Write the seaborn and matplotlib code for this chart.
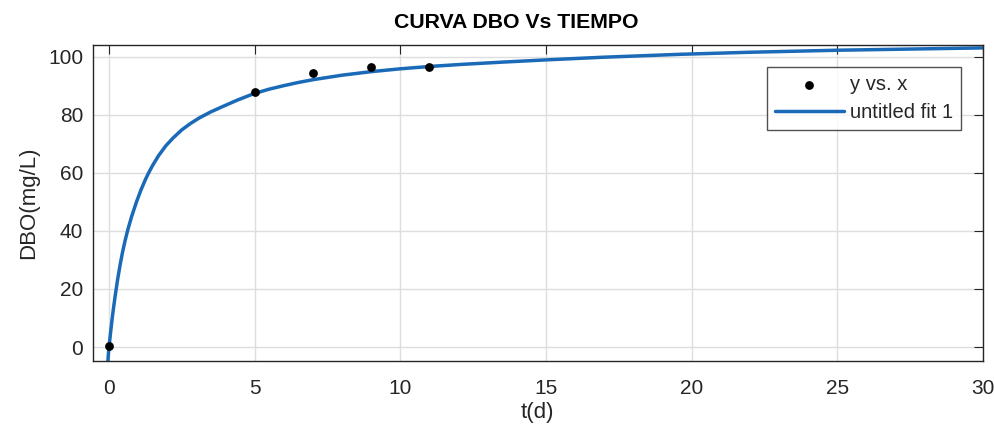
# DBO vs tiempo - datos medidos y curva de ajuste

import matplotlib
matplotlib.use("Agg")
import matplotlib.pyplot as plt
import seaborn as sns
import pandas as pd

# datos medidos
t_data = [0, 5, 7, 9, 11]
dbo_data = [0.3, 87.7, 94.2, 96.5, 96.4]

# curva ajustada
t_fit = [-0.045, -0.02, 0.0, 0.05, 0.1, 0.15, 0.21, 0.3, 0.38, 0.46, 0.55,
         0.65, 0.78, 0.95, 1.1, 1.25, 1.35, 1.5, 1.7, 1.95, 2.2, 2.5, 2.8,
         3.1, 3.5, 3.9, 4.4, 4.96, 5.5, 6.0, 6.5, 7.03, 8.0, 8.98, 10.0,
         11.0, 12.07, 13.5, 15.06, 17.0, 19.64, 22.0, 25.03, 27.5, 30.0]
dbo_fit = [-5.6, -2.1, 0.0, 4.8, 9.2, 13.2, 17.6, 23.6, 28.3, 32.5, 36.6,
           40.6, 45.1, 50.2, 54.2, 57.7, 59.8, 62.6, 65.9, 69.3, 72.0, 74.8, 77.0,
           78.9, 81.0, 82.8, 85.0, 87.2, 88.8, 90.0, 91.1, 92.1, 93.6, 94.8, 95.8,
           96.6, 97.3, 98.1, 98.9, 99.8, 100.8, 101.5, 102.2, 102.6, 103.0]

df_data = pd.DataFrame({"t": t_data, "dbo": dbo_data})
df_fit = pd.DataFrame({"t": t_fit, "dbo": dbo_fit})

sns.set_style("white")
plt.rcParams["font.family"] = ["Liberation Sans", "DejaVu Sans"]

fig = plt.figure(figsize=(9.95, 4.29), dpi=100)
ax = fig.add_axes([0.0932, 0.1585, 0.8945, 0.7373])

ax.grid(True, color="#dedede", linewidth=1.0)
ax.set_axisbelow(True)

sns.scatterplot(data=df_data, x="t", y="dbo", ax=ax, color="black", s=40,
                edgecolor="black", linewidth=0, label="y vs. x", zorder=3)
sns.lineplot(data=df_fit, x="t", y="dbo", ax=ax, color="#1a6ab8", linewidth=2.5,
             label="untitled fit 1", sort=False, zorder=2)

ax.set_xlim(-0.56, 30)
ax.set_ylim(-4.8, 104.1)
ax.set_xticks([0, 5, 10, 15, 20, 25, 30])
ax.set_yticks([0, 20, 40, 60, 80, 100])

for s in ax.spines.values():
    s.set_color("#262626")
    s.set_linewidth(1.0)

ax.tick_params(direction="in", length=6.5, width=0.8, color="#262626",
               labelcolor="#262626", labelsize=15, top=True, right=True)
ax.tick_params(axis="x", pad=13)
ax.tick_params(axis="y", pad=7)

ax.set_xlabel("t(d)", fontsize=16, color="#262626", labelpad=3)
ax.set_ylabel("DBO(mg/L)", fontsize=16, color="#262626", labelpad=6)

fig.text(0.5185, 0.947, "CURVA DBO Vs TIEMPO", fontsize=15.3, fontweight="bold",
         ha="center", va="center", color="black")

leg = ax.legend(loc="upper right", bbox_to_anchor=(0.9755, 0.929), fontsize=14.5,
                frameon=True, fancybox=False, edgecolor="#262626",
                handlelength=3.4, borderpad=0.4, labelspacing=0.42,
                handletextpad=0.3, borderaxespad=0)
leg.get_frame().set_linewidth(1.0)

fig.savefig("out.png", dpi=100, facecolor="white")
